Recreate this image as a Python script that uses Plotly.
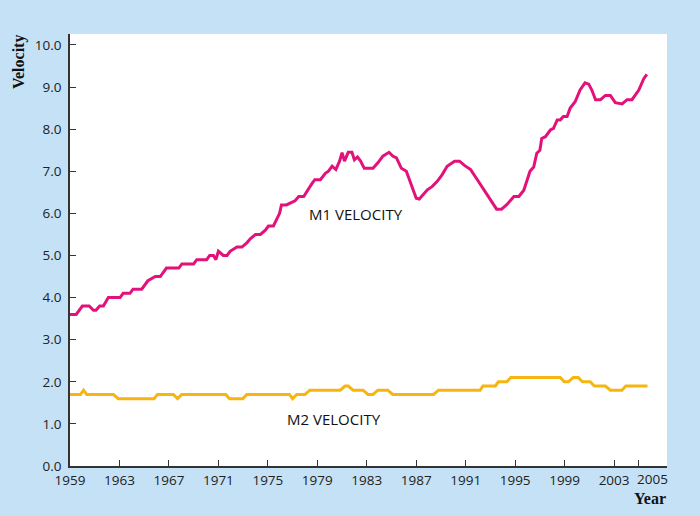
import plotly.graph_objects as go

# M1 velocity (year, value)
m1_years = [1959.0, 1959.5, 1960.0, 1960.55, 1960.9, 1961.1, 1961.4, 1961.7, 1962.1, 1963.05,
            1963.3, 1963.85, 1964.1, 1964.8, 1965.3, 1965.9, 1966.3, 1966.8, 1967.8, 1968.05,
            1969.0, 1969.25, 1970.05, 1970.3, 1970.6, 1970.8, 1971.0, 1971.4, 1971.7, 1971.95,
            1972.5, 1972.9, 1973.3, 1973.6, 1974.0, 1974.4, 1974.8, 1975.05, 1975.45, 1975.95,
            1976.1, 1976.5, 1977.2, 1977.5, 1977.9, 1978.3, 1978.55, 1978.8, 1979.25, 1979.65,
            1979.9, 1980.2, 1980.5, 1980.8, 1981.0, 1981.2, 1981.5, 1981.8, 1982.0, 1982.25,
            1982.5, 1982.8, 1983.5, 1983.9, 1984.3, 1984.8, 1985.1, 1985.4, 1985.8, 1986.2,
            1986.6, 1987.0, 1987.25, 1987.65, 1987.9, 1988.3, 1988.7, 1989.1, 1989.5, 1990.1,
            1990.5, 1990.9, 1991.4, 1991.85, 1992.4, 1993.1, 1993.5, 1993.9, 1994.3, 1994.9,
            1995.3, 1995.7, 1996.2, 1996.5, 1996.75, 1997.0, 1997.15, 1997.45, 1997.85, 1998.1,
            1998.4, 1998.65, 1998.9, 1999.2, 1999.45, 1999.85, 2000.25, 2000.65, 2000.95, 2001.2,
            2001.5, 2001.9, 2002.3, 2002.7, 2003.1, 2003.65, 2004.05, 2004.45, 2005.0, 2005.4,
            2005.65]
m1_values = [3.6, 3.6, 3.8, 3.8, 3.7, 3.7, 3.8, 3.8, 4.0, 4.0,
             4.1, 4.1, 4.2, 4.2, 4.4, 4.5, 4.5, 4.7, 4.7, 4.8,
             4.8, 4.9, 4.9, 5.0, 5.0, 4.9, 5.1, 5.0, 5.0, 5.1,
             5.2, 5.2, 5.3, 5.4, 5.5, 5.5, 5.6, 5.7, 5.7, 6.0,
             6.2, 6.2, 6.3, 6.4, 6.4, 6.6, 6.7, 6.8, 6.8, 6.95,
             7.0, 7.12, 7.04, 7.24, 7.44, 7.24, 7.45, 7.45, 7.27, 7.34,
             7.24, 7.07, 7.07, 7.2, 7.36, 7.45, 7.36, 7.32, 7.07, 7.0,
             6.68, 6.36, 6.34, 6.48, 6.56, 6.64, 6.76, 6.92, 7.12, 7.24,
             7.24, 7.14, 7.04, 6.84, 6.6, 6.3, 6.1, 6.1, 6.2, 6.4,
             6.4, 6.55, 7.0, 7.1, 7.43, 7.5, 7.78, 7.82, 7.98, 8.02,
             8.22, 8.22, 8.3, 8.3, 8.5, 8.65, 8.93, 9.1, 9.07, 8.93,
             8.7, 8.7, 8.8, 8.8, 8.63, 8.6, 8.7, 8.7, 8.93, 9.2,
             9.3]

# M2 velocity (year, value)
m2_years = [1959.0, 1959.85, 1960.1, 1960.35, 1962.5, 1962.9, 1965.8, 1966.07, 1967.36, 1967.7,
            1968.04, 1971.6, 1971.9, 1972.97, 1973.3, 1976.75, 1977.0, 1977.34, 1978.0, 1978.4,
            1980.85, 1981.25, 1981.5, 1981.9, 1982.7, 1983.1, 1983.5, 1983.9, 1984.7, 1985.1,
            1988.4, 1988.8, 1992.17, 1992.4, 1993.4, 1993.65, 1994.33, 1994.65, 1998.64, 1998.97,
            1999.3, 1999.7, 2000.1, 2000.45, 2001.07, 2001.4, 2002.3, 2002.7, 2003.64, 2003.95,
            2005.7]
m2_values = [1.7, 1.7, 1.8, 1.7, 1.7, 1.6, 1.6, 1.7, 1.7, 1.6,
             1.7, 1.7, 1.6, 1.6, 1.7, 1.7, 1.6, 1.7, 1.7, 1.8,
             1.8, 1.9, 1.9, 1.8, 1.8, 1.7, 1.7, 1.8, 1.8, 1.7,
             1.7, 1.8, 1.8, 1.9, 1.9, 2.0, 2.0, 2.1, 2.1, 2.0,
             2.0, 2.1, 2.1, 2.0, 2.0, 1.9, 1.9, 1.8, 1.8, 1.9,
             1.9]

x_ticks = [1959, 1963, 1967, 1971, 1975, 1979, 1983, 1987, 1991, 1995, 1999, 2003, 2005]
y_ticks = [0, 1, 2, 3, 4, 5, 6, 7, 8, 9, 10]
last_tick = x_ticks[-1]

M1_COLOR = "#e2127a"
M2_COLOR = "#f6b511"
BG = "#c5e1f6"
AX = "#333333"

fig = go.Figure()
fig.add_trace(go.Scatter(x=m1_years, y=m1_values, mode="lines",
                         line=dict(color=M1_COLOR, width=3), hoverinfo="skip"))
fig.add_trace(go.Scatter(x=m2_years, y=m2_values, mode="lines",
                         line=dict(color=M2_COLOR, width=3), hoverinfo="skip"))

tick_font = dict(family="Open Sans, Noto Sans, sans-serif", size=13.5, color="#222222")

fig.update_layout(
    width=700, height=516,
    margin=dict(l=70, r=33, t=34, b=50),
    paper_bgcolor=BG, plot_bgcolor="white",
    showlegend=False,
    xaxis=dict(range=[1959, 2007.28], tickmode="array", tickvals=x_ticks,
               ticktext=[str(v) if v != last_tick else "" for v in x_ticks],
               ticks="inside", ticklen=6,
               tickwidth=1, tickcolor=AX, showline=True, linecolor=AX, linewidth=1.5,
               showgrid=False, zeroline=False, tickfont=tick_font, tickangle=0,
               ticklabelstandoff=1),
    yaxis=dict(range=[0, 10.26], tickmode="array", tickvals=y_ticks,
               ticktext=[f"{v:.1f}" for v in y_ticks], ticks="inside", ticklen=6,
               tickwidth=1, tickcolor=AX, showline=True, linecolor=AX, linewidth=1.5,
               showgrid=False, zeroline=False, tickfont=tick_font, ticklabelstandoff=4),
    annotations=[
        dict(x=last_tick, y=-0.029, xref="x", yref="paper", text=str(last_tick),
             showarrow=False, xanchor="left", yanchor="middle", xshift=-4,
             font=tick_font),
        dict(x=1982.1, y=5.99, xref="x", yref="y", text="M1 VELOCITY", showarrow=False,
             font=dict(family="Open Sans, Noto Sans, sans-serif", size=15, color="#111111")),
        dict(x=1980.36, y=1.12, xref="x", yref="y", text="M2 VELOCITY", showarrow=False,
             font=dict(family="Open Sans, Noto Sans, sans-serif", size=15, color="#111111")),
        dict(x=-0.0854, y=0.935, xref="paper", yref="paper", text="<b>Velocity</b>",
             textangle=-90, showarrow=False, xanchor="center", yanchor="middle",
             font=dict(family="Liberation Serif, serif", size=16, color="#111111")),
        dict(x=1.0017, y=-0.076, xref="paper", yref="paper", text="<b>Year</b>",
             showarrow=False, xanchor="right", yanchor="middle",
             font=dict(family="Liberation Serif, serif", size=16, color="#111111")),
    ],
)

fig.write_html("out.html", config={"displayModeBar": False},
               post_script="document.body.style.margin='0';document.body.style.overflow='hidden';")
